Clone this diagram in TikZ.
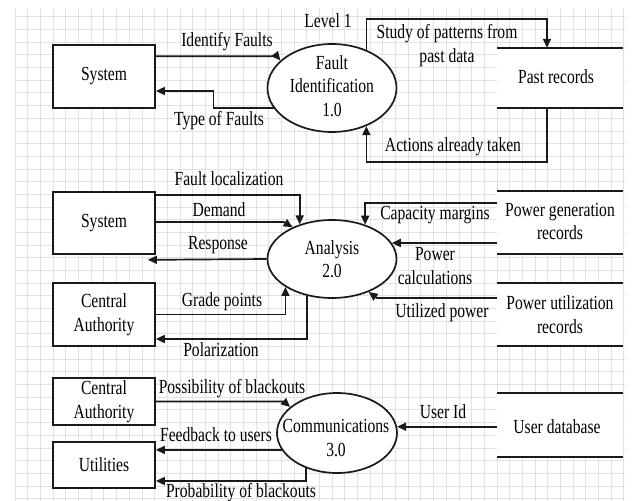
\documentclass[tikz,border=0pt]{standalone}
\usepackage{fontspec}
\setmainfont{Liberation Serif}[FakeStretch=0.78]
\usetikzlibrary{arrows.meta,shapes.geometric,calc}
\newcommand\dfdfont{\fontsize{20pt}{23.5pt}\selectfont}
\definecolor{gridc}{HTML}{E2E2E2}
\definecolor{inkc}{HTML}{1A1A1A}
\begin{document}
\begin{tikzpicture}[x=1pt,y=-1pt,
  ln/.style={draw=inkc, line width=1.7pt},
  arr/.style={ln, -{Triangle[length=9pt,width=8pt]}},
  ent/.style={draw=inkc, line width=1.7pt, fill=white, minimum width=102pt, inner sep=0pt, align=center, font=\dfdfont},
  proc/.style={ellipse, draw=inkc, line width=1.7pt, fill=white, inner sep=0pt},
  store/.style={fill=white, draw=none, minimum width=126pt, inner sep=0pt},
  lbl/.style={inner sep=0pt, align=center, font=\dfdfont, text=black},
  gridl/.style={draw=gridc, line width=0.6pt}
]
\useasboundingbox (0,0) rectangle (633,501);
\fill[white] (0,0) rectangle (633,501);
% background grid
\begin{scope}
\clip (14,8) rectangle (625,501);
\foreach \i in {0,...,48} \draw[gridl] ({15+12.68*\i},8) -- ({15+12.68*\i},501);
\foreach \j in {0,...,39} \draw[gridl] (14,{4+12.68*\j}) -- (625,{4+12.68*\j});
\end{scope}

% ---------- Level 1 ----------
\node[lbl] (lvl) at (328,21) {Level 1};
\node[ent, minimum height=63pt] (sys1) at (104,76.5) {System};
\node[proc, minimum width=129pt, minimum height=88pt] (fi) at (332,88) {};
\node[lbl] (fiT) at (332,86) {Fault\\Identification\\1.0};
\node[store, minimum height=60pt] (pr) at (560,78) {};
\node[lbl] (prT) at (556,77) {Past records};
\draw[ln] (pr.north west) -- (pr.north east);
\draw[ln] (pr.south west) -- (pr.south east);

\draw[arr] ([yshift=-12pt]sys1.north east) -- ++(121,0) -- (fi.152.1);
\draw[arr] (fi.199.2) -- ++(-60,0) |- ([yshift=-14.5pt]sys1.east);
\draw[arr] (fi.48.9) -- ++(0,-31) -| ([xshift=-13pt]pr.north);
\draw[arr] ([xshift=-13pt]pr.south) -- ++(0,54) -| (fi.-48.9);

\node[lbl] (l1) at (227,42) {Identify Faults};
\node[lbl] (l2) at (219,121) {Type of Faults};
\node[lbl] (l3) at (447,45.5) {Study of patterns from\\past data};
\node[lbl] (l4) at (453,147) {Actions already taken};

% ---------- Analysis ----------
\node[ent, minimum height=62pt] (sys2) at (104,223) {System};
\node[ent, minimum height=63pt] (ca2) at (104,314.5) {Central\\Authority};
\node[proc, minimum width=129pt, minimum height=78pt] (an) at (332,259) {};
\node[lbl] (anT) at (332,259) {Analysis\\2.0};
\node[store, minimum height=63pt] (pg) at (560,222.5) {};
\node[lbl] (pgT) at (560,221.5) {Power generation\\records};
\draw[ln] (pg.north west) -- (pg.north east);
\draw[ln] (pg.south west) -- (pg.south east);
\node[store, minimum height=63pt] (pu) at (560,314.5) {};
\node[lbl] (puT) at (560,314.5) {Power utilization\\records};
\draw[ln] (pu.north west) -- (pu.north east);
\draw[ln] (pu.south west) -- (pu.south east);

\draw[arr] ([yshift=-4pt]sys2.north east) -| (an.133.3);
\draw[arr] ([yshift=1pt]sys2.east) -- ++(128,0) -- (an.141.6);
\draw[arr] (an.west) -- ([xshift=-8pt,yshift=-5pt]sys2.south east);
\draw[arr] (ca2.east) -| (an.211.8);
\draw[arr] (an.236.5) |- ([yshift=-24.5pt]ca2.east);
\draw[arr] ([yshift=19.5pt]pg.west) -| (an.46.7);
\draw[arr] ([yshift=-20.5pt]pg.west) -- (an.15.2);
\draw[arr] ([yshift=16.5pt]pu.west) -- ++(-120,0) -- (an.-42.5);

\node[lbl] (l5) at (229,179) {Fault localization};
\node[lbl] (l6) at (219,210) {Demand};
\node[lbl] (l7) at (218,245) {Response};
\node[lbl] (l8) at (222,302) {Grade points};
\node[lbl] (l9) at (221,350) {Polarization};
\node[lbl] (l10) at (435,215) {Capacity margins};
\node[lbl] (l11) at (435,266) {Power\\calculations};
\node[lbl] (l12) at (442,313) {Utilized power};

% ---------- Communications ----------
\node[ent, minimum height=47pt] (ca3) at (104,401.5) {Central\\Authority};
\node[ent, minimum height=46pt] (ut3) at (104,465) {Utilities};
\node[proc, minimum width=120pt, minimum height=80pt] (co) at (337,433) {};
\node[lbl] (coT) at (336,438) {Communications\\3.0};
\node[store, minimum height=64pt] (ud) at (560,425) {};
\node[lbl] (udT) at (557,427) {User database};
\draw[ln] (ud.north west) -- (ud.north east);
\draw[ln] (ud.south west) -- (ud.south east);

\draw[arr] (ca3.east) -- ++(128,0) -- (co.151.9);
\draw[arr] (co.197.4) -- (ut3.east |- co.197.4);
\draw[arr] (co.229.1) |- ([yshift=-16pt]ut3.east);
\draw[arr] (ud.west |- co.6.75) -- (co.6.75);

\node[lbl] (l13) at (232,389) {Possibility of blackouts};
\node[lbl] (l14) at (216,435) {Feedback to users};
\node[lbl] (l15) at (241,493) {Probability of blackouts};
\node[lbl] (l16) at (443,412) {User Id};
\end{tikzpicture}
\end{document}
